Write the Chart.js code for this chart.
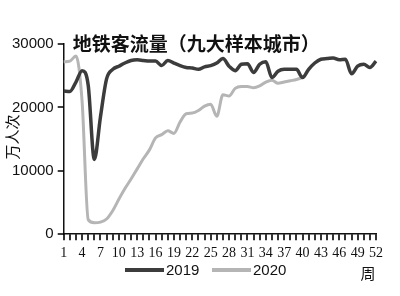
<!DOCTYPE html>
<html>
<head>
<meta charset="utf-8">
<script src="https://cdn.jsdelivr.net/npm/chart.js@4"></script>
<style>
  html, body { margin: 0; padding: 0; background: #fff; }
  #wrap { width: 400px; height: 296px; }
</style>
</head>
<body>
<div id="wrap"><canvas id="myChart"></canvas></div>
<script>
// weeks of the year
const weeks = ['1','2','3','4','5','6','7','8','9','10','11','12','13','14','15','16','17','18','19','20',
  '21','22','23','24','25','26','27','28','29','30','31','32','33','34','35','36','37','38','39','40',
  '41','42','43','44','45','46','47','48','49','50','51','52'];

// metro ridership, 10k trips per week
const ridership2019 = [22600, 22500, 24000, 25800, 23500, 11800, 18500, 24500, 26000, 26500,
  27000, 27400, 27500, 27400, 27300, 27300, 26600, 27400, 27000, 26600,
  26300, 26200, 26000, 26400, 26600, 27000, 27700, 26500, 25800, 26800,
  26900, 25500, 26800, 27200, 24700, 25700, 26000, 26000, 26000, 24700,
  26000, 27000, 27600, 27700, 27800, 27500, 27600, 25300, 26500, 26800,
  26300, 27300];

const ridership2020 = [27200, 27300, 28100, 21000, 2300, 1800, 1900, 2400, 3700, 5500,
  7200, 8700, 10300, 11900, 13300, 15200, 15700, 16300, 15900, 17700,
  19000, 19100, 19500, 20200, 20500, 18600, 22000, 21800, 23000, 23300,
  23300, 23100, 23400, 24000, 24300, 23800, 24000, 24200, 24400, 24700];

const yTicks = [0, 10000, 20000, 30000];

const titleText = '地铁客流量（九大样本城市）';
const yTitle = '万人次';
const xTitle = '周';

const ctx = document.getElementById('myChart');

// tick marks, title over the plot, rotated unit, legend + "周" at the bottom
const extraText = {
  id: 'extraText',
  afterDraw(chart) {
    const c = chart.ctx;
    const area = chart.chartArea;
    const xs = chart.scales.x;
    const ys = chart.scales.y;
    c.save();

    // tick marks
    c.strokeStyle = '#000';
    c.lineWidth = 1.6;
    c.beginPath();
    weeks.forEach((w, i) => {
      const px = Math.round(xs.getPixelForValue(i));
      c.moveTo(px, area.bottom);
      c.lineTo(px, area.bottom + 6);
    });
    yTicks.forEach(v => {
      const py = Math.round(ys.getPixelForValue(v));
      c.moveTo(area.left, py);
      c.lineTo(area.left - 6, py);
    });
    c.stroke();

    c.fillStyle = '#111';
    c.textBaseline = 'middle';
    c.font = 'bold 19px "Noto Sans CJK SC"';
    c.textAlign = 'left';
    c.fillText(titleText, area.left + 9, area.top);

    c.save();
    c.translate(12, (area.top + area.bottom) / 2 - 2);
    c.rotate(-Math.PI / 2);
    c.textAlign = 'center';
    c.font = '15px "Noto Sans CJK SC"';
    c.fillText(yTitle, 0, 0);
    c.restore();

    // legend
    const legendY = 270;
    const starts = [125, 212];
    chart.data.datasets.forEach((ds, i) => {
      const x = starts[i];
      c.strokeStyle = ds.borderColor;
      c.lineWidth = 4;
      c.beginPath();
      c.moveTo(x, legendY);
      c.lineTo(x + 39, legendY);
      c.stroke();
      c.font = '15px "Liberation Sans"';
      c.textAlign = 'left';
      c.fillStyle = '#111';
      c.fillText(ds.label, x + 41, legendY + 1);
    });

    c.font = '15px "Noto Sans CJK SC"';
    c.textAlign = 'center';
    c.fillText(xTitle, 368, 273);
    c.restore();
  }
};

new Chart(ctx, {
  type: 'line',
  data: {
    labels: weeks,
    datasets: [{
      label: '2019',
      data: ridership2019,
      borderColor: '#3c3c3c',
      backgroundColor: '#3c3c3c',
      borderWidth: 3.5,
      pointRadius: 0,
      cubicInterpolationMode: 'monotone',
      fill: false
    }, {
      label: '2020',
      data: ridership2020,
      borderColor: '#b5b5b5',
      backgroundColor: '#b5b5b5',
      borderWidth: 3,
      pointRadius: 0,
      cubicInterpolationMode: 'monotone',
      fill: false
    }]
  },
  options: {
    responsive: true,
    maintainAspectRatio: false,
    animation: false,
    layout: {
      padding: { left: 7, right: 24, top: 44, bottom: 28 }
    },
    plugins: {
      legend: { display: false },
      tooltip: { enabled: false }
    },
    scales: {
      x: {
        grid: {
          drawOnChartArea: false,
          drawTicks: true,
          tickLength: 5,
          color: 'rgba(0,0,0,0)'
        },
        border: { color: '#111', width: 1.5 },
        ticks: {
          autoSkip: false,
          maxRotation: 0,
          minRotation: 0,
          padding: 6,
          color: '#111',
          font: { family: 'Liberation Sans Narrow', size: 14 },
          callback: function(value, index) {
            return index % 3 === 0 ? weeks[index] : '';
          }
        }
      },
      y: {
        min: 0,
        max: 30000,
        afterBuildTicks: function(axis) {
          axis.ticks = yTicks.map(v => ({ value: v }));
        },
        grid: {
          drawOnChartArea: false,
          drawTicks: true,
          tickLength: 5,
          color: 'rgba(0,0,0,0)'
        },
        border: { color: '#111', width: 1.5 },
        ticks: {
          padding: 5,
          color: '#111',
          font: { family: 'Liberation Sans', size: 15 },
          callback: function(value) {
            return String(value);
          }
        }
      }
    }
  },
  plugins: [extraText]
});
</script>
</body>
</html>
